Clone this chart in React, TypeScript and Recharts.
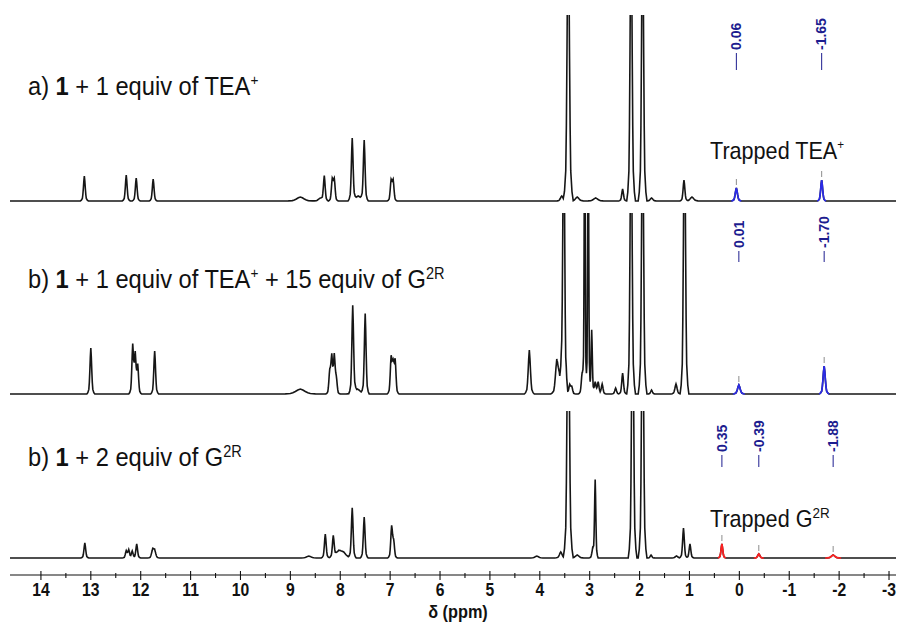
import React from 'react';
import { ComposedChart, Line, XAxis, YAxis, ReferenceDot } from 'recharts';

// [shift (ppm), intensity, half width (ppm, optional)]
type Peak = [number, number, number?];

const PPM_LEFT = 14.62;
const PPM_RIGHT = -3.14;

const axisTicks = [
  14, 13.5, 13, 12.5, 12, 11.5, 11, 10.5, 10, 9.5, 9, 8.5, 8, 7.5, 7, 6.5, 6, 5.5,
  5, 4.5, 4, 3.5, 3, 2.5, 2, 1.5, 1, 0.5, 0, -0.5, -1, -1.5, -2, -2.5, -3,
];

// a) 1 + 1 equiv of TEA+
const peaksA: Peak[] = [
  [13.13, 25], [12.29, 26], [12.09, 23], [11.75, 22],
  [8.8, 4, 0.08], [8.4, 3, 0.04], [8.32, 25], [8.16, 21], [8.12, 21],
  [7.76, 62], [7.64, 5, 0.07], [7.52, 60],
  [6.98, 20], [6.94, 20],
  [3.56, 5, 0.03], [3.43, 300, 0.025], [3.25, 4, 0.04], [2.88, 3, 0.05],
  [2.34, 12], [2.17, 300, 0.022], [1.94, 300, 0.022], [1.76, 3, 0.03],
  [1.11, 21], [0.95, 4, 0.04],
];
const trappedA: Peak[] = [[0.06, 13, 0.025], [-1.65, 21, 0.022]];

// b) 1 + 1 equiv of TEA+ + 15 equiv of G2R
const peaksB: Peak[] = [
  [13.0, 46], [12.16, 48], [12.11, 38], [12.06, 28], [11.72, 43],
  [8.8, 5, 0.1], [8.21, 22], [8.17, 36], [8.12, 37], [8.08, 15],
  [7.75, 87], [7.66, 5, 0.07], [7.5, 80],
  [6.98, 36], [6.94, 28], [6.9, 33],
  [4.21, 44, 0.025], [3.66, 32, 0.03], [3.61, 15, 0.03], [3.56, 20], [3.52, 300, 0.02],
  [3.47, 8], [3.4, 9], [3.36, 7],
  [3.15, 22], [3.1, 300, 0.012], [3.03, 300, 0.012], [2.96, 64, 0.015],
  [2.89, 12], [2.83, 12], [2.75, 10],
  [2.48, 6], [2.34, 21], [2.17, 300, 0.022], [1.94, 300, 0.022], [1.76, 4],
  [1.27, 10, 0.025], [1.1, 300, 0.022],
];
const trappedB: Peak[] = [[0.01, 9, 0.03], [-1.7, 28, 0.025]];

// b) 1 + 2 equiv of G2R
const peaksC: Peak[] = [
  [13.12, 15], [12.29, 7], [12.24, 8], [12.17, 7], [12.08, 14], [11.76, 8, 0.025], [11.72, 7, 0.025],
  [8.63, 2, 0.05], [8.3, 24], [8.14, 21], [8.03, 7, 0.07], [7.93, 4, 0.06],
  [7.76, 50], [7.52, 41],
  [6.97, 31], [6.93, 16],
  [4.06, 2, 0.04], [3.58, 6, 0.03], [3.43, 300, 0.025], [3.25, 3, 0.04],
  [2.94, 9], [2.89, 78, 0.015], [2.14, 300, 0.022], [1.94, 300, 0.022], [1.77, 3],
  [1.26, 2, 0.03], [1.12, 30], [0.99, 14],
];
const trappedC: Peak[] = [[0.35, 14, 0.02], [-0.39, 4, 0.025], [-1.88, 3, 0.04]];

// normalised line shape: [distance in half widths, fraction of peak height]
const PROFILE: [number, number][] = [[0, 1], [0.5, 0.8], [1, 0.5], [1.5, 0.25], [2, 0.1], [3, 0.03], [4, 0]];
const DEFAULT_HW = 0.02;

const TRACE_COLOR = '#161616';
const LABEL_COLOR = '#1d1d8f';
const FONT = "'Liberation Sans', Arial, sans-serif";

function profileAt(d: number): number {
  const a = Math.abs(d);
  for (let i = 1; i < PROFILE.length; i++) {
    const [x0, y0] = PROFILE[i - 1];
    const [x1, y1] = PROFILE[i];
    if (a <= x1) return y0 + ((y1 - y0) * (a - x0)) / (x1 - x0);
  }
  return 0;
}

function buildTrace(peaks: Peak[]) {
  const xs = new Set<number>([PPM_RIGHT, PPM_LEFT]);
  peaks.forEach(([c, , w = DEFAULT_HW]) => {
    PROFILE.forEach(([k]) => {
      xs.add(+(c - k * w).toFixed(5));
      xs.add(+(c + k * w).toFixed(5));
    });
  });
  return [...xs]
    .sort((a, b) => a - b)
    .map((ppm) => ({
      ppm,
      y: peaks.reduce((s, [c, h, w = DEFAULT_HW]) => s + h * profileAt((ppm - c) / w), 0),
    }));
}

const AxisTick = (props: any) => {
  const { x, y, payload } = props;
  const v = payload.value as number;
  const major = Number.isInteger(v);
  return (
    <g>
      <line x1={x} x2={x} y1={y - (major ? 4 : 2)} y2={y + (major ? 5 : 3)} stroke="#111" strokeWidth={1.1} />
      {major && (
        <text
          transform={`translate(${x},${y + 21}) scale(0.85,1)`}
          textAnchor="middle"
          fontSize={18.5}
          fontWeight="bold"
          fill="#111"
          fontFamily={FONT}
        >
          {String(v)}
        </text>
      )}
    </g>
  );
};

type PanelProps = {
  top: number;
  height: number;
  margin: { top: number; right: number; bottom: number; left: number };
  yDomain: [number, number];
  peaks: Peak[];
  trapped: Peak[];
  trappedColor: string;
  labelBottom: number;
  leader: [number, number];
  showAxis?: boolean;
};

function SpectrumPanel({ top, height, margin, yDomain, peaks, trapped, trappedColor, labelBottom, leader, showAxis }: PanelProps) {
  const trace = buildTrace([...peaks, ...trapped]);
  return (
    <div style={{ position: 'absolute', left: 0, top }}>
      <ComposedChart width={898} height={height} margin={margin}>
        <XAxis
          type="number"
          dataKey="ppm"
          domain={[PPM_RIGHT, PPM_LEFT]}
          reversed
          hide={!showAxis}
          ticks={axisTicks}
          interval={0}
          tickSize={0}
          tickMargin={0}
          tickLine={false}
          tick={<AxisTick />}
          axisLine={{ stroke: '#111', strokeWidth: 1.2 }}
          height={45}
        />
        <YAxis yAxisId="s" type="number" domain={yDomain} allowDataOverflow hide />
        <Line
          yAxisId="s"
          data={trace}
          dataKey="y"
          type="linear"
          stroke={TRACE_COLOR}
          strokeWidth={1.6}
          dot={false}
          activeDot={false}
          isAnimationActive={false}
        />
        {trapped.map(([c, , w = DEFAULT_HW]) => (
          <Line
            key={`t${c}`}
            yAxisId="s"
            data={trace.filter((p) => Math.abs(p.ppm - c) <= 4 * w + 1e-6)}
            dataKey="y"
            type="linear"
            stroke={trappedColor}
            strokeWidth={1.7}
            dot={false}
            activeDot={false}
            isAnimationActive={false}
          />
        ))}
        {trapped.map(([c, h]) => (
          <ReferenceDot
            key={`l${c}`}
            yAxisId="s"
            x={c}
            y={h}
            r={0}
            ifOverflow="visible"
            shape={(p: any) => (
              <g>
                <line x1={p.cx} x2={p.cx} y1={p.cy - 9} y2={p.cy - 3} stroke="#8c8c8c" strokeWidth={1} />
                <line x1={p.cx} x2={p.cx} y1={leader[0]} y2={leader[1]} stroke={LABEL_COLOR} strokeWidth={1} />
                <text
                  transform={`translate(${p.cx + 4.8},${labelBottom}) rotate(-90)`}
                  fontSize={14}
                  fontWeight="bold"
                  fill={LABEL_COLOR}
                  fontFamily={FONT}
                >
                  {c.toFixed(2)}
                </text>
              </g>
            )}
          />
        ))}
      </ComposedChart>
    </div>
  );
}

export default function App() {
  const titleProps = { fontSize: 26, fill: '#111', fontFamily: FONT };
  return (
    <div style={{ position: 'absolute', left: 0, top: 0, width: 898, height: 628, background: '#fff', overflow: 'hidden' }}>
      <SpectrumPanel
        top={0}
        height={205}
        margin={{ top: 15, right: 2, bottom: 2, left: 10 }}
        yDomain={[-2, 186]}
        peaks={peaksA}
        trapped={trappedA}
        trappedColor="#2b2be8"
        labelBottom={50}
        leader={[53, 70]}
      />
      <SpectrumPanel
        top={205}
        height={195}
        margin={{ top: 8, right: 2, bottom: 4, left: 10 }}
        yDomain={[-2, 181]}
        peaks={peaksB}
        trapped={trappedB}
        trappedColor="#2b2be8"
        labelBottom={43}
        leader={[46, 57]}
      />
      <SpectrumPanel
        top={400}
        height={228}
        margin={{ top: 11, right: 2, bottom: 8, left: 10 }}
        yDomain={[-17, 147]}
        peaks={peaksC}
        trapped={trappedC}
        trappedColor="#ff2020"
        labelBottom={52}
        leader={[55, 67]}
        showAxis
      />
      <svg width={898} height={628} style={{ position: 'absolute', left: 0, top: 0, pointerEvents: 'none' }}>
        <text transform="translate(28,95) scale(0.91,1)" {...titleProps}>
          {'a) '}
          <tspan fontWeight="bold">1</tspan>
          {' + 1 equiv of TEA'}
          <tspan fontSize={15} dy={-10}>+</tspan>
        </text>
        <text transform="translate(28,288) scale(0.91,1)" {...titleProps}>
          {'b) '}
          <tspan fontWeight="bold">1</tspan>
          {' + 1 equiv of TEA'}
          <tspan fontSize={15} dy={-10}>+</tspan>
          <tspan dy={10}>{' + 15 equiv of G'}</tspan>
          <tspan fontSize={16} dy={-9}>2R</tspan>
        </text>
        <text transform="translate(28,466) scale(0.91,1)" {...titleProps}>
          {'b) '}
          <tspan fontWeight="bold">1</tspan>
          {' + 2 equiv of G'}
          <tspan fontSize={16} dy={-9}>2R</tspan>
        </text>
        <text transform="translate(710,159) scale(0.9,1)" fontSize={24} fill="#111" fontFamily={FONT}>
          {'Trapped TEA'}
          <tspan fontSize={13} dy={-10}>+</tspan>
        </text>
        <text transform="translate(710,527) scale(0.9,1)" fontSize={24} fill="#111" fontFamily={FONT}>
          {'Trapped G'}
          <tspan fontSize={15} dy={-9}>2R</tspan>
        </text>
        <text
          transform="translate(458,618) scale(0.88,1)"
          textAnchor="middle"
          fontSize={18.5}
          fontWeight="bold"
          fill="#111"
          fontFamily={FONT}
        >
          δ (ppm)
        </text>
      </svg>
    </div>
  );
}
